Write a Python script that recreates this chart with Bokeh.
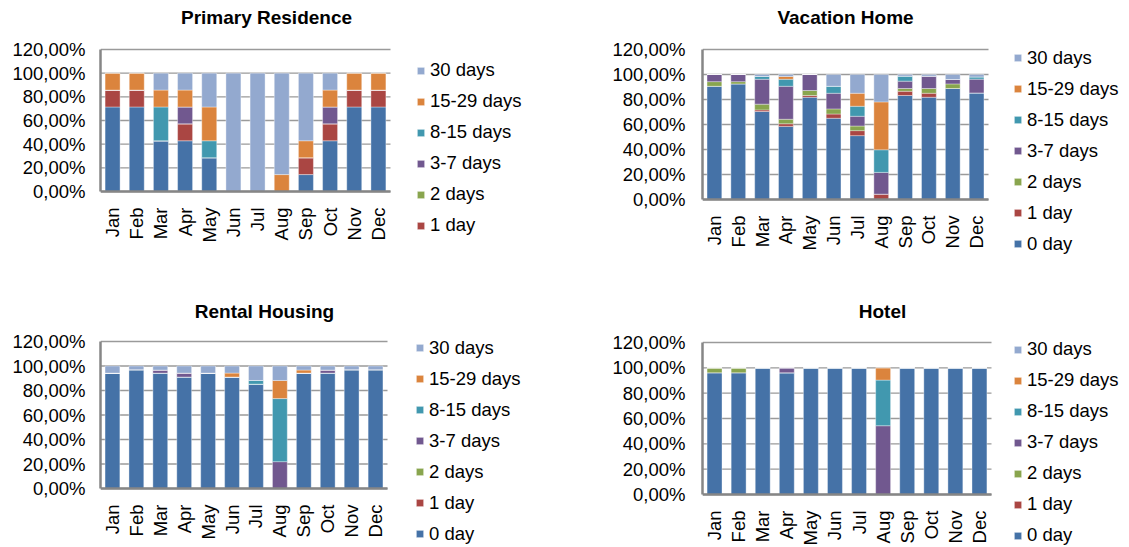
from bokeh.plotting import figure
from bokeh.layouts import column, row
from bokeh.models import Range1d, FixedTicker, Legend, LegendItem, Label
from bokeh.embed import file_html
from bokeh.resources import INLINE
import math

months = ["Jan", "Feb", "Mar", "Apr", "May", "Jun", "Jul", "Aug", "Sep", "Oct", "Nov", "Dec"]
series = ["0 day", "1 day", "2 days", "3-7 days", "8-15 days", "15-29 days", "30 days"]
colors = ["#4572A7", "#AA4643", "#89A54E", "#71588F", "#4198AF", "#DB843D", "#93A9CF"]
y_ticks = [0, 20, 40, 60, 80, 100, 120]
y_tick_labels = ["0,00%", "20,00%", "40,00%", "60,00%", "80,00%", "100,00%", "120,00%"]

# values in percent, Jan..Dec
primary = {
    "0 day":      [71.43, 71.43, 42.86, 42.86, 28.57, 0, 0, 0, 14.29, 42.86, 71.43, 71.43],
    "1 day":      [14.29, 14.29, 0, 14.29, 0, 0, 0, 0, 14.29, 14.29, 14.29, 14.29],
    "2 days":     [0, 0, 0, 0, 0, 0, 0, 0, 0, 0, 0, 0],
    "3-7 days":   [0, 0, 0, 14.29, 0, 0, 0, 0, 0, 14.29, 0, 0],
    "8-15 days":  [0, 0, 28.57, 0, 14.29, 0, 0, 0, 0, 0, 0, 0],
    "15-29 days": [14.29, 14.29, 14.29, 14.29, 28.57, 0, 0, 14.29, 14.29, 14.29, 14.29, 14.29],
    "30 days":    [0, 0, 14.29, 14.29, 28.57, 100, 100, 85.71, 57.14, 14.29, 0, 0],
}
vacation = {
    "0 day":      [90.6, 92.5, 70.4, 58.5, 81.8, 65.0, 51.1, 0, 83.2, 81.8, 88.8, 85.3],
    "1 day":      [0, 0, 1.3, 2.1, 1.4, 3.4, 4.0, 4.3, 3.4, 3.2, 0, 0],
    "2 days":     [3.7, 1.8, 4.6, 3.6, 4.0, 4.1, 3.7, 0, 2.2, 3.8, 3.7, 0],
    "3-7 days":   [5.7, 5.7, 19.9, 26.4, 12.8, 12.5, 7.8, 17.4, 5.9, 9.9, 3.5, 11.0],
    "8-15 days":  [0, 0, 2.2, 5.6, 0, 5.6, 8.0, 18.1, 4.0, 0, 0, 1.8],
    "15-29 days": [0, 0, 0, 2.2, 0, 0, 10.4, 38.3, 0, 0, 0, 0],
    "30 days":    [0, 0, 1.6, 1.6, 0, 9.4, 15.0, 21.9, 1.3, 1.3, 4.0, 1.9],
}
rental = {
    "0 day":      [94.2, 97.0, 94.2, 91.0, 94.2, 91.0, 85.2, 0, 94.2, 94.2, 97.0, 97.0],
    "1 day":      [0, 0, 0, 0, 0, 0, 0, 0, 0, 0, 0, 0],
    "2 days":     [0, 0, 0, 0, 0, 0, 0, 0, 0, 0, 0, 0],
    "3-7 days":   [0, 0, 2.5, 3.2, 0, 0, 0, 21.9, 0, 2.5, 0, 0],
    "8-15 days":  [0, 0, 0, 0, 0, 0, 3.0, 51.5, 0, 0, 0, 0],
    "15-29 days": [0, 0, 0, 0, 0, 3.2, 0, 14.8, 2.5, 0, 0, 0],
    "30 days":    [5.8, 3.0, 3.3, 5.8, 5.8, 5.8, 11.8, 11.8, 3.3, 3.3, 3.0, 3.0],
}
hotel = {
    "0 day":      [96.1, 96.1, 100, 96.1, 100, 100, 100, 0, 100, 100, 100, 100],
    "1 day":      [0, 0, 0, 0, 0, 0, 0, 0, 0, 0, 0, 0],
    "2 days":     [3.9, 3.9, 0, 0, 0, 0, 0, 0, 0, 0, 0, 0],
    "3-7 days":   [0, 0, 0, 3.9, 0, 0, 0, 54.3, 0, 0, 0, 0],
    "8-15 days":  [0, 0, 0, 0, 0, 0, 0, 36.0, 0, 0, 0, 0],
    "15-29 days": [0, 0, 0, 0, 0, 0, 0, 9.7, 0, 0, 0, 0],
    "30 days":    [0, 0, 0, 0, 0, 0, 0, 0, 0, 0, 0, 0],
}

FONT = "Liberation Sans"
ITEM_H = 22
SPACING = 9
NM = len(months)


def panel(title, data, legend_series, ox, oy, W, H, L, fw, T, fh,
          title_c, leg_left, leg_first_c, ystandoff):
    """ox, oy: figure origin on page; L: frame left; T: y of 120% line (relative);
    fw, fh: pixel size of the 12-month x 0..120% area."""
    ppu = fw / NM
    ppy = fh / 120.0
    x0 = -0.5
    x1 = -0.5 + (W - L) / ppu
    y1 = 120 + T / ppy
    y0 = 120 - (H - T) / ppy

    src = {"m": list(range(NM))}
    for s in series:
        src[s] = data[s]
    p = figure(x_range=Range1d(x0, x1), y_range=Range1d(y0, y1),
               width=W, height=H, min_border_left=L, min_border_right=0,
               min_border_top=0, min_border_bottom=0,
               output_backend="svg", toolbar_location=None, tools="")
    p.outline_line_color = None
    p.grid.visible = False

    # horizontal gridlines over the bar area only
    p.segment(x0=-0.5, x1=NM - 0.5, y0=y_ticks, y1=y_ticks,
              line_color="#9a9a9a", line_width=1.3)

    rs = p.vbar_stack(series, x="m", width=0.62, source=src, color=colors,
                      line_color="white", line_alpha=0.45, line_width=0.8)

    p.yaxis.ticker = FixedTicker(ticks=y_ticks)
    p.yaxis.major_label_overrides = {t: l for t, l in zip(y_ticks, y_tick_labels)}
    p.yaxis.bounds = (0, 120)
    p.xaxis.ticker = FixedTicker(ticks=list(range(NM)))
    p.xaxis.major_label_overrides = {i: m for i, m in enumerate(months)}
    p.xaxis.bounds = (-0.5, NM - 0.5)
    p.xaxis.fixed_location = 0
    for ax in (p.xaxis, p.yaxis):
        ax.axis_line_color = "#868686"
        ax.axis_line_width = 2.5
        ax.major_tick_line_color = None
        ax.minor_tick_line_color = None
        ax.major_tick_out = 0
        ax.major_tick_in = 0
        ax.major_label_text_font = FONT
        ax.major_label_text_font_size = "18.5px"
        ax.major_label_text_color = "black"
    p.yaxis.major_label_standoff = ystandoff
    p.xaxis.major_label_standoff = 16
    p.xaxis.major_label_orientation = math.pi / 2

    # title, positioned in data units from pixel targets
    tx = x0 + (title_c[0] - ox - L) / ppu
    ty = 120 + (T - (title_c[1] - oy)) / ppy
    p.add_layout(Label(x=tx, y=ty, text=title, text_align="center", text_baseline="middle",
                       text_font=FONT, text_font_size="19px", text_font_style="bold",
                       text_color="black"))

    items = []
    for s in reversed(series):
        if s in legend_series:
            items.append(LegendItem(label=s, renderers=[rs[series.index(s)]]))
    n = len(items)
    leg_h = n * ITEM_H + (n - 1) * SPACING
    leg_top = leg_first_c - oy - ITEM_H / 2
    loc = (leg_left - ox - L, H - leg_top - leg_h)
    leg = Legend(items=items, location=loc, orientation="vertical",
                 border_line_color=None, background_fill_alpha=0, padding=0, margin=0,
                 spacing=SPACING, glyph_width=9, glyph_height=9, label_standoff=5,
                 label_height=ITEM_H, label_text_font=FONT, label_text_font_size="18.5px",
                 label_text_color="black", label_text_baseline="middle")
    p.add_layout(leg, "center")
    return p


p1 = panel("Primary Residence", primary, series[1:], 0, 0, 572, 288, 100, 290, 49, 142,
           (266, 17), 416, 70, 15)
p2 = panel("Vacation Home", vacation, series, 572, 0, 549, 288, 130, 286, 49, 150,
           (845, 17), 1013, 57.5, 17)
p3 = panel("Rental Housing", rental, series, 0, 288, 572, 258, 100, 287, 53, 147,
           (264, 311), 415, 347.5, 15)
p4 = panel("Hotel", hotel, series, 572, 288, 549, 258, 130, 289, 54, 152,
           (882, 311), 1013, 349, 17)

layout = column(row(p1, p2), row(p3, p4))
open("out.html", "w").write(file_html(layout, INLINE))
